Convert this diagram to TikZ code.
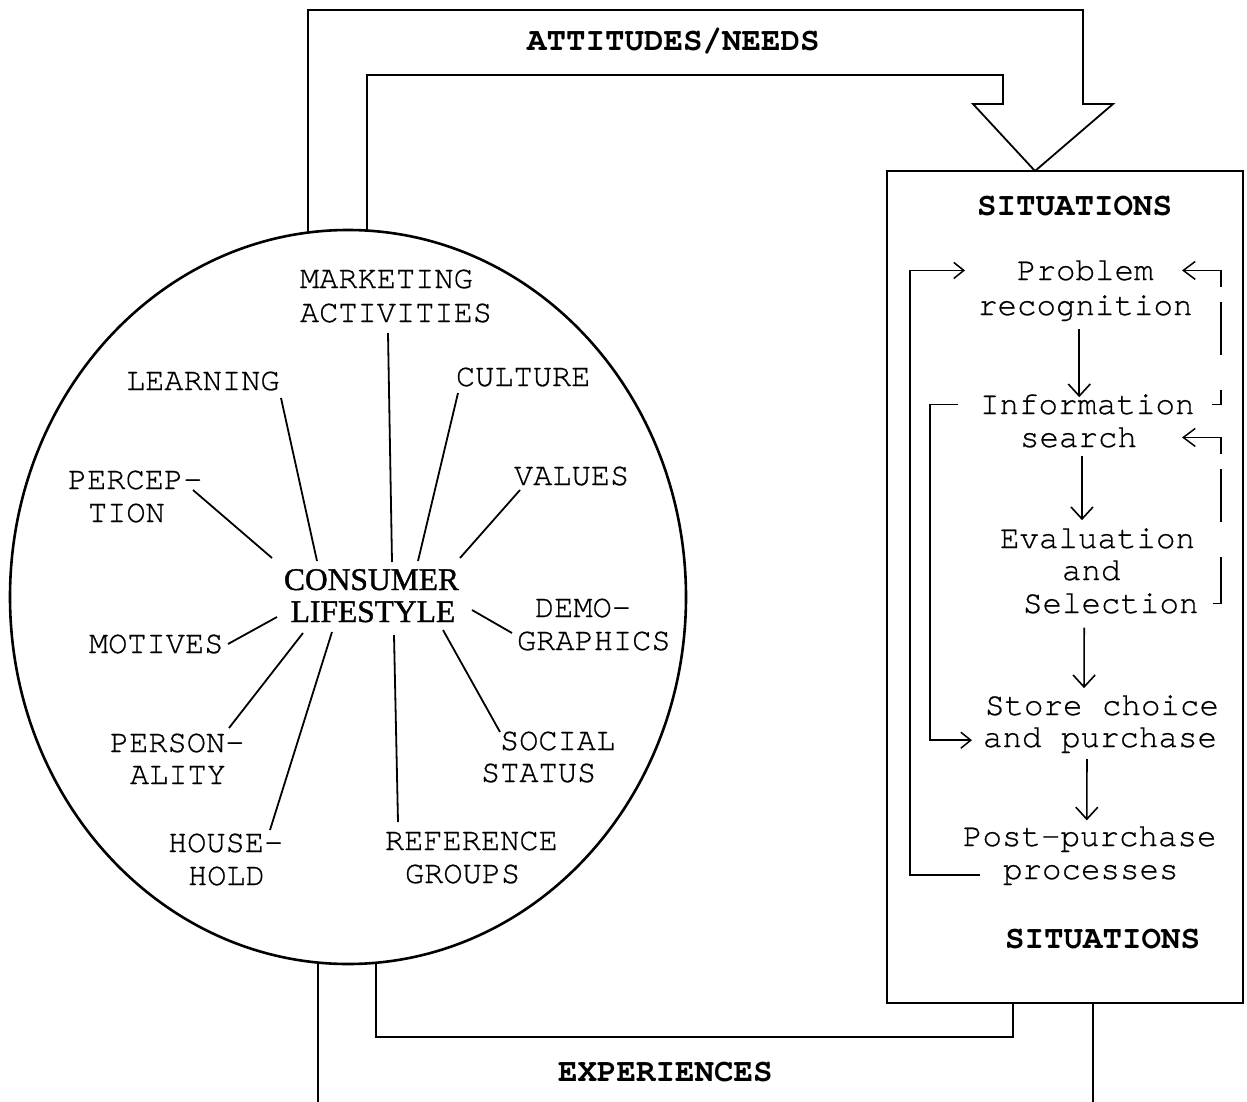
\documentclass[tikz,border=0pt]{standalone}
\usepackage{fontspec}
\setmonofont[FakeBold=0.7]{TeX Gyre Cursor}
\newfontfamily\headfont{TeX Gyre Cursor}
\newfontfamily\corefont[FakeBold=1.2]{Liberation Serif}
\usetikzlibrary{arrows.meta}
\begin{document}
\begin{tikzpicture}[x=1pt,y=-1pt,
  line/.style={line width=1.5pt, line join=miter},
  ring/.style={line width=2.6pt},
  spoke/.style={line width=1.8pt},
  lbl/.style={font=\ttfamily\fontsize{32}{34}\selectfont, anchor=base west, inner sep=0pt, outer sep=0pt},
  stp/.style={font=\ttfamily\fontsize{32.5}{34}\selectfont, anchor=base west, inner sep=0pt, outer sep=0pt},
  head/.style={font=\headfont\bfseries\fontsize{32.5}{34}\selectfont, anchor=base west, inner sep=0pt, outer sep=0pt},
  core/.style={font=\corefont\fontsize{31.5}{32}\selectfont, anchor=base, inner sep=0pt},
  flow/.style={line width=1.6pt, -{Straight Barb[length=12pt,width=22pt,line width=1.6pt]}},
  back/.style={line width=1.5pt, -{Straight Barb[length=10pt,width=16pt,line width=1.5pt]}},
  loop/.style={line width=1.5pt, dash pattern=on 54pt off 15pt on 53pt off 35pt on 60pt off 20pt,
    {Straight Barb[length=12pt,width=18pt,line width=1.5pt]}-}]
\useasboundingbox (0,0) rectangle (1247,1102);

% ---------- the lifestyle ring ----------
\draw[ring] (348,597) ellipse [x radius=338pt, y radius=367pt];
\coordinate (ringA) at (308,232.6);
\coordinate (ringB) at (367,230.6);
\coordinate (ringC) at (318,962.5);
\coordinate (ringD) at (376,962.7);

\node[core] (core1) at (371.5,590) {CONSUMER};
\node[core] (core2) at (373,622) {LIFESTYLE};

% influences around the centre
\node[lbl] (mkt1) at (300,288) {MARKETING};
\node[lbl] (mkt2) at (300,322) {ACTIVITIES};
\node[lbl] (learn) at (126,390) {LEARNING};
\node[lbl] (cult) at (456,386) {CULTURE};
\node[lbl] (perc1) at (68,489) {PERCEP-};
\node[lbl] (perc2) at (88,522) {TION};
\node[lbl] (vals) at (514,485) {VALUES};
\node[lbl] (demo1) at (535,617) {DEMO-};
\node[lbl] (demo2) at (517,650) {GRAPHICS};
\node[lbl] (motiv) at (89,653) {MOTIVES};
\node[lbl] (pers1) at (110,752) {PERSON-};
\node[lbl] (pers2) at (130,784) {ALITY};
\node[lbl] (soc1) at (500,750) {SOCIAL};
\node[lbl] (soc2) at (481,782) {STATUS};
\node[lbl] (hh1) at (168,852) {HOUSE-};
\node[lbl] (hh2) at (188,885) {HOLD};
\node[lbl] (ref1) at (385,850) {REFERENCE};
\node[lbl] (ref2) at (405,883) {GROUPS};

% spoke ends
\coordinate (mktO) at (388,333);   \coordinate (mktI) at (392,562);
\coordinate (learnO) at (281,398); \coordinate (learnI) at (317,561);
\coordinate (cultO) at (458,393);  \coordinate (cultI) at (418,561);
\coordinate (percO) at (193,490);  \coordinate (percI) at (272,558);
\coordinate (valsO) at (520,490);  \coordinate (valsI) at (460,558);
\coordinate (demoO) at (512,633);  \coordinate (demoI) at (472,610);
\coordinate (motivO) at (228,644); \coordinate (motivI) at (277,617);
\coordinate (persO) at (229,728);  \coordinate (persI) at (303,633);
\coordinate (hhO) at (270,830);    \coordinate (hhI) at (332,632);
\coordinate (refO) at (398,822);   \coordinate (refI) at (394,635);
\coordinate (socO) at (500,732);   \coordinate (socI) at (443,630);
\foreach \s in {mkt,learn,cult,perc,vals,demo,motiv,pers,hh,ref,soc}
  \draw[spoke] (\s O) -- (\s I);

% ---------- decision process box ----------
\node[draw, line width=1.5pt, minimum width=356pt, minimum height=832pt,
      inner sep=0pt, outer sep=0pt, anchor=north west] (box) at (887,171) {};

\node[head] (sitTop) at (977,215) {SITUATIONS};
\node[head] (sitBot) at (1005,948) {SITUATIONS};

\node[stp] (prob1) at (1017,280) {Problem};
\node[stp] (prob2) at (978,315) {recognition};
\node[stp] (info1) at (980,414) {Information};
\node[stp] (info2) at (1020,447) {search};
\node[stp] (eval1) at (1000,548) {Evaluation};
\node[stp] (eval2) at (1062,580) {and};
\node[stp] (eval3) at (1023,613) {Selection};
\node[stp] (store1) at (985,715) {Store choice};
\node[stp] (store2) at (983,747) {and purchase};
\node[stp] (post1) at (963,846) {Post-purchase};
\node[stp] (post2) at (1003,879) {processes};

% main sequence
\draw[flow, shorten <=8pt, shorten >=-3pt] ([xshift=-6pt]prob2.south) -- ([xshift=-8pt]info1.north);
\draw[flow, shorten <=8pt, shorten >=8pt] ([xshift=3.5pt]info2.south) -- ([xshift=-15.5pt]eval1.north);
\draw[flow, shorten <=14pt, shorten >=7pt] ([xshift=-26.5pt]eval3.south) -- ([xshift=-18pt]store1.north);
\draw[flow, shorten <=6pt, shorten >=6pt] ([xshift=-13pt]store2.south) -- ([xshift=-3pt]post1.north);

% feedback lines on the left
\coordinate (ox) at (910,0);
\coordinate (ix) at (930,0);
\draw[back] ([xshift=-23pt]post2.west) -- (post2.west -| ox) -- (prob1.west -| ox) -- ([xshift=-52pt]prob1.west);
\draw[back] ([xshift=-22pt]info1.west) -- (info1.west -| ix) -- (store2.west -| ix) -- ([xshift=-11pt]store2.west);

% dashed feedback lines on the right
\coordinate (dx) at (1221,0);
\coordinate (tx) at (1182,0);
\draw[loop] (prob1.east -| tx) -- (prob1.east -| dx) -- (info1.east -| dx) -- ([xshift=17pt]info1.east);
\draw[loop] (info2.east -| tx) -- (info2.east -| dx) -- (eval3.east -| dx) -- ([xshift=14pt]eval3.east);

% ---------- broad arrow: attitudes/needs ----------
\coordinate (tipx) at (1035,0);
\draw[line, line width=1.8pt] (ringA) -- (308,10) -- (1083,10) -- (1083,104) -- (1113,104)
  -- (box.north -| tipx) -- (973,104) -- (1003,104) -- (1003,75) -- (367,75) -- (ringB);
\node[head] (att) at (527,51) {ATTITUDES/NEEDS};

% ---------- experiences ----------
\coordinate (ex1) at (1013,0);
\coordinate (ex2) at (1093,0);
\draw[line] (ringD) -- (376,1037) -- (1013,1037) -- (box.south -| ex1);
\draw[line] (ringC) -- (318,1102);
\draw[line] (box.south -| ex2) -- (1093,1102);
\node[head] (exp) at (558,1081) {EXPERIENCES};
\end{tikzpicture}
\end{document}
